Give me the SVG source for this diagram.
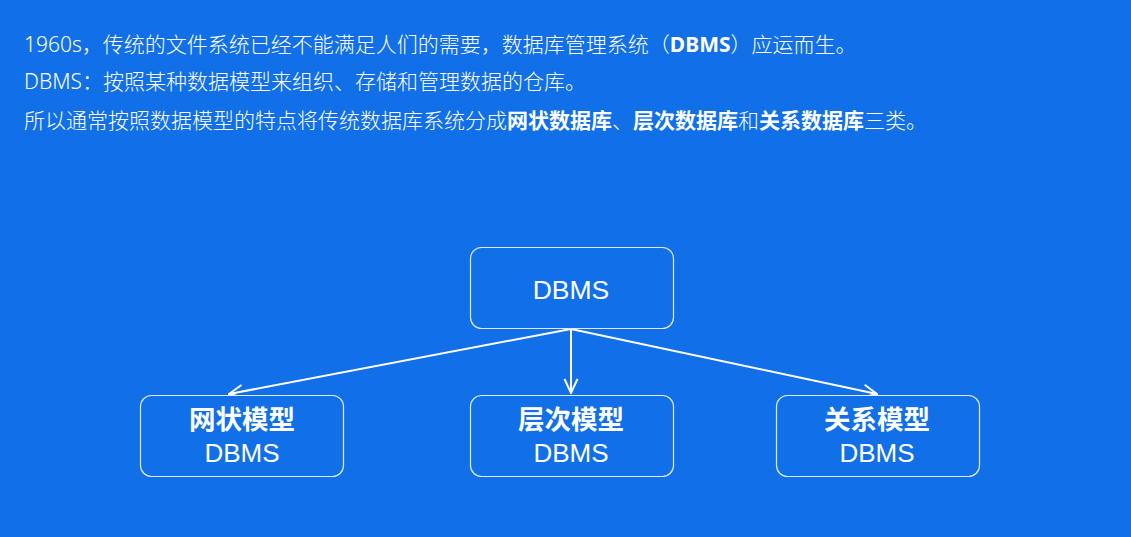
<svg xmlns="http://www.w3.org/2000/svg" width="1131" height="537" viewBox="0 0 1131 537">
<style>
.bg{fill:#1170E8}
.intro{font-family:"Noto Sans","Noto Sans CJK SC",sans-serif;font-size:21px;font-weight:300;fill:#ffffff}
.b{font-weight:bold}
.box{fill:#1170E8;stroke:#dfe9fb;stroke-width:1.2}
.t1{font-family:"Liberation Sans","Noto Sans",sans-serif;font-size:26.5px;fill:#ffffff;text-anchor:middle}
.tz{font-family:"Noto Sans CJK SC","Noto Sans",sans-serif;font-size:26.5px;font-weight:bold;fill:#ffffff;text-anchor:middle}
.td{font-family:"Liberation Sans","Noto Sans",sans-serif;font-size:26px;fill:#ffffff;text-anchor:middle}
.edge{stroke:#ffffff;stroke-width:2;fill:none}
</style>
<defs>
<marker id="arr" viewBox="0 0 16 16" refX="15" refY="8" markerWidth="16" markerHeight="16" markerUnits="userSpaceOnUse" orient="auto">
<path d="M1,1.5 L15,8 L1,14.5" fill="none" stroke="#ffffff" stroke-width="2"/>
</marker>
</defs>
<rect class="bg" x="0" y="0" width="1131" height="537"/>
<g id="intro">
<text class="intro" x="24" y="52">1960s，传统的文件系统已经不能满足人们的需要，数据库管理系统（<tspan class="b">DBMS</tspan>）应运而生。</text>
<text class="intro" x="24" y="89">DBMS：按照某种数据模型来组织、存储和管理数据的仓库。</text>
<text class="intro" x="24" y="128">所以通常按照数据模型的特点将传统数据库系统分成<tspan class="b">网状数据库</tspan>、<tspan class="b">层次数据库</tspan>和<tspan class="b">关系数据库</tspan>三类。</text>
</g>
<g id="connectors">
<line class="edge" x1="571" y1="329" x2="229" y2="394" marker-end="url(#arr)"/>
<line class="edge" x1="571" y1="329" x2="571" y2="393" marker-end="url(#arr)"/>
<line class="edge" x1="571" y1="329" x2="877" y2="394" marker-end="url(#arr)"/>
</g>
<g id="dbms">
<rect class="box" x="470.5" y="247.5" width="203" height="81" rx="11"/>
<text class="t1" x="571" y="299">DBMS</text>
</g>
<g id="network">
<rect class="box" x="140.5" y="395.5" width="203" height="81" rx="11"/>
<text class="tz" x="242" y="429">网状模型</text>
<text class="td" x="242" y="462">DBMS</text>
</g>
<g id="hierarchy">
<rect class="box" x="470.5" y="395.5" width="203" height="81" rx="11"/>
<text class="tz" x="571" y="429">层次模型</text>
<text class="td" x="571" y="462">DBMS</text>
</g>
<g id="relational">
<rect class="box" x="776.5" y="395.5" width="203" height="81" rx="11"/>
<text class="tz" x="877" y="429">关系模型</text>
<text class="td" x="877" y="462">DBMS</text>
</g>
</svg>
